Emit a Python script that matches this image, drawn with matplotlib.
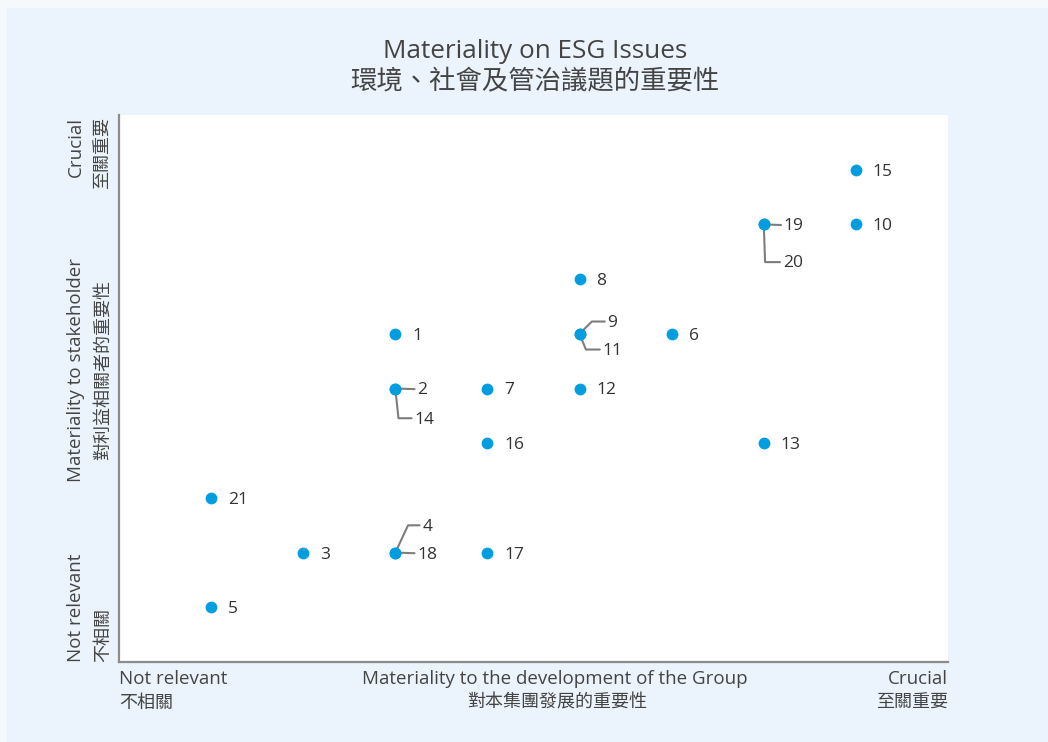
import matplotlib
matplotlib.use("Agg")
import matplotlib.pyplot as plt
from matplotlib.patches import Rectangle

plt.rcParams['font.family'] = ['Open Sans', 'Noto Sans CJK TC', 'DejaVu Sans']

# ---- data ----
issue_ids = [1, 2, 3, 4, 5, 6, 7, 8, 9, 10, 11, 12, 13, 14, 15, 16, 17, 18, 19, 20, 21]
group_materiality = [3, 3, 2, 3, 1, 6, 4, 5, 5, 8, 5, 5, 7, 3, 8, 4, 4, 3, 7, 7, 1]
stakeholder_materiality = [6, 5, 2, 2, 1, 6, 5, 7, 6, 8, 6, 5, 4, 5, 9, 4, 2, 2, 8, 8, 3]

title_en = "Materiality on ESG Issues"
title_zh = "環境、社會及管治議題的重要性"
x_labels = [("Not relevant", "不相關"), ("Materiality to the development of the Group", "對本集團發展的重要性"), ("Crucial", "至關重要")]
y_labels = [("Not relevant", "不相關"), ("Materiality to stakeholder", "對利益相關者的重要性"), ("Crucial", "至關重要")]

# label placement: (dx px, dy px, leader angle at point)
label_style = {
    2: (22, 0, 'h'),
    14: (19, -29, -84),
    4: (27, 28, 65),
    18: (22, 0, 'h'),
    9: (28, 13, 45),
    11: (23, -15, -68),
    19: (20, 0, 'h'),
    20: (19, -37, -88),
}

BLUE = "#009ee0"
GRAY_LINE = "#7d7d7d"
TEXT = "#333333"
PANEL = "#ebf4fc"

fig = plt.figure(figsize=(10.48, 7.42), dpi=100)
fig.patch.set_facecolor("#f6f9fc")
fig.patches.append(Rectangle((7 / 1048, 0), 1 - 7 / 1048, 1 - 8 / 742, transform=fig.transFigure,
                             facecolor=PANEL, edgecolor='none', zorder=-10))

ax = fig.add_axes([119 / 1048, 1 - 662 / 742, (948 - 119) / 1048, (662 - 115) / 742])
ax.set_facecolor("white")
ax.set_xlim(0, 9)
ax.set_ylim(0, 10)
for s in ['top', 'right']:
    ax.spines[s].set_visible(False)
for s in ['left', 'bottom']:
    ax.spines[s].set_color("#8c8c8c")
    ax.spines[s].set_linewidth(1.6)
ax.set_xticks([])
ax.set_yticks([])

ax.scatter(group_materiality, stakeholder_materiality, s=72, color=BLUE, zorder=5, linewidths=0)

LBL_FS = 12.5
for i, gx, sy in zip(issue_ids, group_materiality, stakeholder_materiality):
    st = label_style.get(i)
    if st is None:
        ax.annotate(str(i), xy=(gx, sy), xytext=(17, -2), textcoords='offset pixels',
                    ha='left', va='center', fontsize=LBL_FS, color=TEXT, family='Open Sans')
    else:
        dx, dy, ang = st
        if ang == 'h':
            cs = "arc3,rad=0"
        else:
            cs = f"angle,angleA=0,angleB={ang},rad=0"
        ax.annotate(str(i), xy=(gx, sy), xytext=(dx, dy - 2), textcoords='offset pixels',
                    ha='left', va='center', fontsize=LBL_FS, color=TEXT, family='Open Sans',
                    arrowprops=dict(arrowstyle='-', color=GRAY_LINE, lw=1.5,
                                    connectionstyle=cs, relpos=(0, 0.58),
                                    shrinkA=0, shrinkB=0))

# title
fig.text(535 / 1048, 1 - 52 / 742, title_en, ha='center', va='center', fontsize=18.8, color="#444444")
fig.text(535 / 1048, 1 - 82 / 742, title_zh, ha='center', va='center', fontsize=19, color="#444444",
         family=['Noto Sans CJK TC'])

lab_kw = dict(color="#444444", fontsize=13.5)
cjk_kw = dict(color="#444444", fontsize=13.0, family=['Noto Sans CJK TC'])

# x axis labels
xl_en_y = 1 - 679 / 742
xl_zh_y = 1 - 703 / 742
fig.text(119 / 1048, xl_en_y, x_labels[0][0], ha='left', va='center', **lab_kw)
fig.text(119 / 1048, xl_zh_y, x_labels[0][1], ha='left', va='center', **cjk_kw)
fig.text(555 / 1048, xl_en_y, x_labels[1][0], ha='center', va='center', **lab_kw)
fig.text(557 / 1048, xl_zh_y, x_labels[1][1], ha='center', va='center', **cjk_kw)
fig.text(948 / 1048, xl_en_y, x_labels[2][0], ha='right', va='center', **lab_kw)
fig.text(948 / 1048, xl_zh_y, x_labels[2][1], ha='right', va='center', **cjk_kw)

# y axis labels (rotated)
yl_en_x = 76 / 1048
yl_zh_x = 103 / 1048
fig.text(yl_en_x, 1 - 662 / 742, y_labels[0][0], ha='center', va='bottom', rotation=90, **lab_kw)
fig.text(yl_zh_x, 1 - 662 / 742, y_labels[0][1], ha='center', va='bottom', rotation=90, **cjk_kw)
fig.text(yl_en_x, 1 - 370 / 742, y_labels[1][0], ha='center', va='center', rotation=90, **lab_kw)
fig.text(yl_zh_x, 1 - 370 / 742, y_labels[1][1], ha='center', va='center', rotation=90, **cjk_kw)
fig.text(yl_en_x, 1 - 117 / 742, y_labels[2][0], ha='center', va='top', rotation=90, **lab_kw)
fig.text(yl_zh_x, 1 - 117 / 742, y_labels[2][1], ha='center', va='top', rotation=90, **cjk_kw)

fig.savefig("out.png", dpi=100, facecolor=fig.get_facecolor())
